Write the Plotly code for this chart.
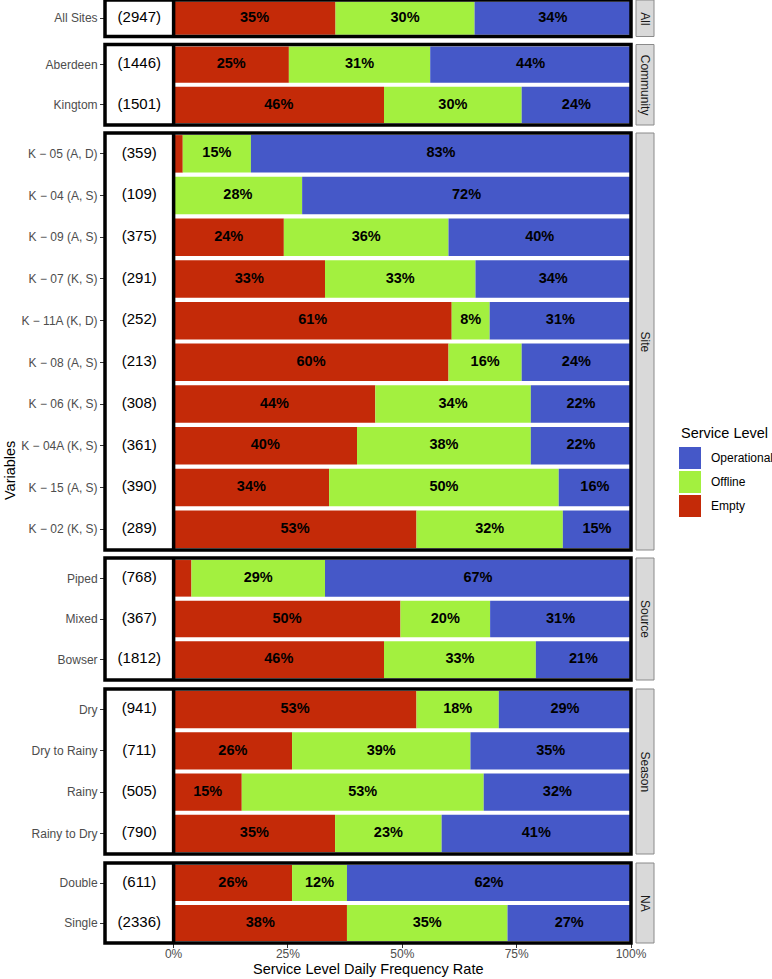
import numpy as np
import plotly.graph_objects as go

# ---------------- data ----------------
groups = ["All", "Community", "Site", "Source", "Season", "NA"]
row_labels = [
    ["All Sites"],
    ["Aberdeen", "Kingtom"],
    ["K − 05 (A, D)", "K − 04 (A, S)", "K − 09 (A, S)", "K − 07 (K, S)", "K − 11A (K, D)",
     "K − 08 (A, S)", "K − 06 (K, S)", "K − 04A (K, S)", "K − 15 (A, S)", "K − 02 (K, S)"],
    ["Piped", "Mixed", "Bowser"],
    ["Dry", "Dry to Rainy", "Rainy", "Rainy to Dry"],
    ["Double", "Single"],
]
counts = [
    [2947],
    [1446, 1501],
    [359, 109, 375, 291, 252, 213, 308, 361, 390, 289],
    [768, 367, 1812],
    [941, 711, 505, 790],
    [611, 2336],
]
empty = [
    [35.4],
    [25.2, 46.0],
    [2.0, 0.0, 24.1, 33.1, 60.8, 60.1, 44.1, 40.1, 34.0, 53.1],
    [3.9, 49.6, 46.0],
    [53.1, 25.9, 14.9, 35.3],
    [25.9, 37.9],
]
offline = [
    [30.4],
    [30.9, 30.1],
    [14.9, 28.1, 36.0, 32.9, 8.3, 16.0, 34.0, 38.0, 50.2, 32.0],
    [29.2, 19.6, 33.2],
    [18.0, 39.0, 52.9, 23.3],
    [12.0, 35.1],
]
operational = [
    [34.2],
    [43.9, 23.9],
    [83.1, 71.9, 39.9, 34.0, 30.9, 23.9, 21.9, 21.9, 15.8, 14.9],
    [66.9, 30.8, 20.8],
    [28.9, 35.1, 32.2, 41.4],
    [62.1, 27.0],
]
series_names = ["Empty", "Offline", "Operational"]
x_ticks = [0, 0.25, 0.5, 0.75, 1.0]
x_tick_text = ["0%", "25%", "50%", "75%", "100%"]

# ---------------- style ----------------
COLORS = {"Empty": "#C42A08", "Offline": "#A3F03F", "Operational": "#4558C8"}
FONT = "Liberation Sans, Arial, Helvetica, sans-serif"
W, H = 772, 979
L, R, T, B = 105, 631, 0, 943  # plot area in pixels
panel_px = [(0, 36.5), (44.5, 125), (133, 550), (558, 680), (689, 854), (863, 943)]


def px2x(px):
    return (px - L) / (R - L)


def py2y(py):
    return (B - py) / (B - T)


fig = go.Figure()
shapes = []
annotations = []

for gi, g in enumerate(groups):
    yname = "y" if gi == 0 else f"y{gi + 1}"
    laxis = "yaxis" if gi == 0 else f"yaxis{gi + 1}"
    labs = row_labels[gi]
    n = len(labs)
    vals = {
        "Empty": np.array(empty[gi]) / 100.0,
        "Offline": np.array(offline[gi]) / 100.0,
        "Operational": np.array(operational[gi]) / 100.0,
    }
    base = np.zeros(n)
    tx, ty, tt = [], [], []
    for s in series_names:
        v = vals[s]
        fig.add_trace(go.Bar(
            x=v, y=labs, base=base.copy(), orientation="h", width=0.9,
            marker=dict(color=COLORS[s], line=dict(width=0)),
            xaxis="x", yaxis=yname, showlegend=False, name=s,
            hoverinfo="skip",
        ))
        for k in range(n):
            if v[k] * 100 >= 5:
                tx.append(base[k] + v[k] / 2)
                ty.append(labs[k])
                tt.append(f"{round(v[k] * 100)}%")
        base = base + v
    fig.add_trace(go.Scatter(
        x=tx, y=ty, text=tt, mode="text", xaxis="x", yaxis=yname,
        textfont=dict(family=FONT, size=14.5, color="black", weight="bold"),
        showlegend=False, hoverinfo="skip",
    ))
    fig.add_trace(go.Scatter(
        x=[-0.075] * n, y=labs, text=[f"({c})" for c in counts[gi]], mode="text",
        xaxis="x", yaxis=yname,
        textfont=dict(family=FONT, size=15, color="black"),
        showlegend=False, hoverinfo="skip",
    ))
    top, bot = panel_px[gi]
    fig.update_layout(**{laxis: dict(
        domain=[py2y(bot), py2y(top)], anchor="x", type="category",
        categoryarray=labs, range=[n - 0.5, -0.5],
        showgrid=False, zeroline=False, showline=False,
        ticks="outside", ticklen=4, tickwidth=1, tickcolor="#333333",
        tickfont=dict(family=FONT, size=12, color="#4D4D4D"),
        fixedrange=True,
    )})
    # divider at 0
    shapes.append(dict(type="line", xref="x", yref="paper", x0=0, x1=0,
                       y0=py2y(bot), y1=py2y(top), line=dict(color="black", width=3.5)))
    # panel border
    shapes.append(dict(type="rect", xref="paper", yref="paper", x0=0, x1=1,
                       y0=py2y(bot), y1=py2y(top), line=dict(color="black", width=3.5),
                       fillcolor="rgba(0,0,0,0)"))
    # strip
    shapes.append(dict(type="rect", xref="paper", yref="paper", x0=px2x(636), x1=px2x(654),
                       y0=py2y(bot), y1=py2y(top), line=dict(color="#8A8A8A", width=1),
                       fillcolor="#D9D9D9", layer="below"))
    annotations.append(dict(xref="paper", yref="paper", x=px2x(645), y=py2y((top + bot) / 2),
                            text=g, showarrow=False, textangle=90,
                            font=dict(family=FONT, size=12, color="#1A1A1A"),
                            xanchor="center", yanchor="middle"))

# legend (manual)
annotations.append(dict(xref="paper", yref="paper", x=px2x(679), y=py2y(433),
                        text="Service Level", showarrow=False, xanchor="left", yanchor="middle",
                        font=dict(family=FONT, size=14.5, color="black")))
legend_items = ["Operational", "Offline", "Empty"]
for i, s in enumerate(legend_items):
    y0 = 447 + i * 24
    shapes.append(dict(type="rect", xref="paper", yref="paper", x0=px2x(679), x1=px2x(701),
                       y0=py2y(y0 + 22), y1=py2y(y0), line=dict(width=0),
                       fillcolor=COLORS[s]))
    annotations.append(dict(xref="paper", yref="paper", x=px2x(709), y=py2y(y0 + 11),
                            text=s, showarrow=False, xanchor="left", yanchor="middle",
                            font=dict(family=FONT, size=12, color="black")))

# axis titles
annotations.append(dict(xref="paper", yref="paper", x=0.5, y=py2y(969),
                        text="Service Level Daily Frequency Rate", showarrow=False,
                        xanchor="center", yanchor="middle",
                        font=dict(family=FONT, size=14.5, color="black")))
annotations.append(dict(xref="paper", yref="paper", x=px2x(10), y=py2y(471),
                        text="Variables", showarrow=False, textangle=-90,
                        xanchor="center", yanchor="middle",
                        font=dict(family=FONT, size=14.5, color="black")))

fig.update_layout(
    width=W, height=H,
    margin=dict(l=L, r=W - R, t=T, b=H - B, pad=0),
    paper_bgcolor="white", plot_bgcolor="white",
    barmode="overlay",
    showlegend=False,
    xaxis=dict(domain=[0, 1], anchor="y6", range=[-0.15, 1.0],
               tickvals=x_ticks, ticktext=x_tick_text,
               showgrid=False, zeroline=False, showline=False,
               ticks="outside", ticklen=4, tickwidth=1, tickcolor="#333333",
               ticklabelstandoff=-4,
               tickfont=dict(family=FONT, size=12, color="#4D4D4D"),
               fixedrange=True),
    shapes=shapes,
    annotations=annotations,
    font=dict(family=FONT),
)

fig.write_html("out.html")
